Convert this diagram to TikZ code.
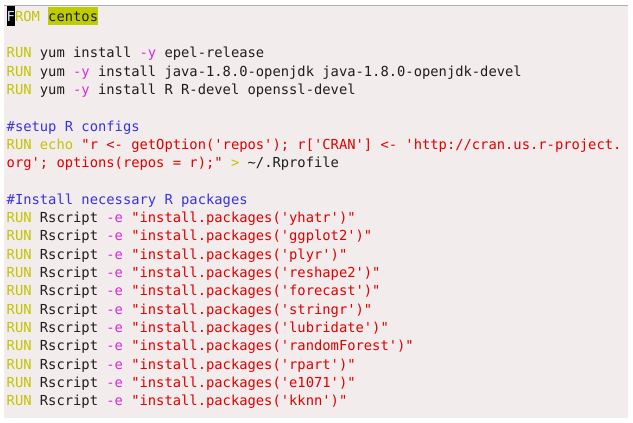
\documentclass[tikz,border=0pt]{standalone}
\usepackage{fontspec}
\newfontfamily\codefont{DejaVu Sans Mono}
\usepackage{tikz}

\definecolor{panel}{RGB}{242,236,236}
\definecolor{rulegray}{RGB}{175,175,175}
\definecolor{kw}{RGB}{196,196,0}
\definecolor{hl}{RGB}{190,204,0}
\definecolor{opt}{RGB}{218,40,218}
\definecolor{str}{RGB}{224,0,0}
\definecolor{cmt}{RGB}{58,50,222}
\definecolor{plain}{RGB}{30,30,30}
\definecolor{cursor}{RGB}{205,228,255}

\begin{document}
\setlength{\fboxsep}{0pt}
\begin{tikzpicture}[
		x=1pt, y=-1pt,
		every node/.style={anchor=base west, inner sep=0pt, text=plain,
			font=\codefont\fontsize{13.8}{16}\selectfont}
	]
  \useasboundingbox (0,0) rectangle (633,423);
  \fill[panel] (4,5) rectangle (628,418);
  \draw[rulegray, line width=1pt] (4,5) -- (628,5);

  \node (l1) at (6.5,21.3) {\colorbox{black}{\rule[-4.4pt]{0pt}{19.6pt}\textcolor{cursor}{F}}\textcolor{kw}{ROM} \colorbox{hl}{\rule[-3.4pt]{0pt}{17.4pt}centos}};

  \node (l3) at (6.5,57.9) {\textcolor{kw}{RUN} yum install \textcolor{opt}{-y} epel-release};
  \node (l4) at (6.5,76.2) {\textcolor{kw}{RUN} yum \textcolor{opt}{-y} install java-1.8.0-openjdk java-1.8.0-openjdk-devel};
  \node (l5) at (6.5,94.5) {\textcolor{kw}{RUN} yum \textcolor{opt}{-y} install R R-devel openssl-devel};

  \node (l7) at (6.5,131.1) {\textcolor{cmt}{\#setup R configs}};
  \node (l8) at (6.5,149.4) {\textcolor{kw}{RUN echo} \textcolor{str}{"r <- getOption('repos'); r['CRAN'] <- 'http://cran.us.r-project.}};
  \node (l9) at (6.5,167.7) {\textcolor{str}{org'; options(repos = r);"} \textcolor{kw}{>} \textasciitilde/.Rprofile};

  \node (l11) at (6.5,204.3) {\textcolor{cmt}{\#Install necessary R packages}};
  \node (l12) at (6.5,222.6) {\textcolor{kw}{RUN} Rscript \textcolor{opt}{-e} \textcolor{str}{"install.packages('yhatr')"}};
  \node (l13) at (6.5,240.9) {\textcolor{kw}{RUN} Rscript \textcolor{opt}{-e} \textcolor{str}{"install.packages('ggplot2')"}};
  \node (l14) at (6.5,259.2) {\textcolor{kw}{RUN} Rscript \textcolor{opt}{-e} \textcolor{str}{"install.packages('plyr')"}};
  \node (l15) at (6.5,277.5) {\textcolor{kw}{RUN} Rscript \textcolor{opt}{-e} \textcolor{str}{"install.packages('reshape2')"}};
  \node (l16) at (6.5,295.8) {\textcolor{kw}{RUN} Rscript \textcolor{opt}{-e} \textcolor{str}{"install.packages('forecast')"}};
  \node (l17) at (6.5,314.1) {\textcolor{kw}{RUN} Rscript \textcolor{opt}{-e} \textcolor{str}{"install.packages('stringr')"}};
  \node (l18) at (6.5,332.4) {\textcolor{kw}{RUN} Rscript \textcolor{opt}{-e} \textcolor{str}{"install.packages('lubridate')"}};
  \node (l19) at (6.5,350.7) {\textcolor{kw}{RUN} Rscript \textcolor{opt}{-e} \textcolor{str}{"install.packages('randomForest')"}};
  \node (l20) at (6.5,369.0) {\textcolor{kw}{RUN} Rscript \textcolor{opt}{-e} \textcolor{str}{"install.packages('rpart')"}};
  \node (l21) at (6.5,387.3) {\textcolor{kw}{RUN} Rscript \textcolor{opt}{-e} \textcolor{str}{"install.packages('e1071')"}};
  \node (l22) at (6.5,405.6) {\textcolor{kw}{RUN} Rscript \textcolor{opt}{-e} \textcolor{str}{"install.packages('kknn')"}};
\end{tikzpicture}
\end{document}
